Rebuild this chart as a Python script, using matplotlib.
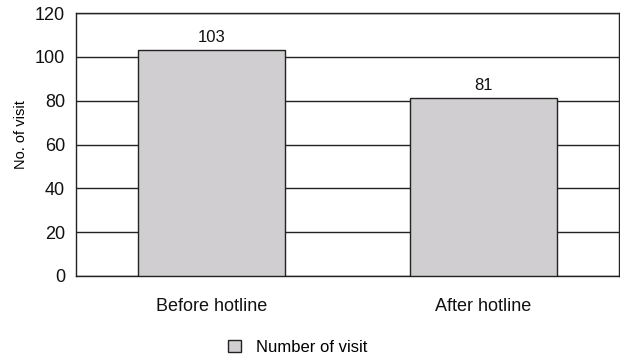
import matplotlib
matplotlib.use("Agg")
import matplotlib.pyplot as plt
from matplotlib.patches import Patch

categories = ["Before hotline", "After hotline"]
visits = [103, 81]
yticks = [0, 20, 40, 60, 80, 100, 120]

plt.rcParams['font.family'] = ['Liberation Sans', 'DejaVu Sans']

fig = plt.figure(figsize=(6.2, 3.58), dpi=100)
ax = fig.add_axes([76/620, 1 - 276/358, 543/620, 263/358])

x = range(len(categories))
bars = ax.bar(x, visits, width=0.54, color="#d0ced0", edgecolor="#222222",
              linewidth=1.0, zorder=3)
for xi, v in zip(x, visits):
    ax.text(xi, v + 2.5, str(v), ha="center", va="bottom", fontsize=12, color="#111111")

ax.set_xlim(-0.5, 1.5)
ax.set_ylim(0, 120)
ax.set_yticks(yticks)
ax.yaxis.grid(True, color="#222222", linewidth=1.0, zorder=0)
ax.set_axisbelow(True)
ax.set_xticks(list(x))
ax.set_xticklabels(categories, fontsize=13)
ax.tick_params(axis="y", length=0, labelsize=13, colors="#111111", pad=8)
ax.tick_params(axis="x", length=0, labelsize=13, colors="#111111", pad=16)
for s in ax.spines.values():
    s.set_color("#222222")
    s.set_linewidth(1.0)
ax.set_ylabel("No. of visit", fontsize=10.5)
ax.yaxis.set_label_coords(-48/543, (276 - 135) / 263)

handle = Patch(facecolor="#d0ced0", edgecolor="#222222", linewidth=1.0)
fig.legend([handle], ["Number of visit"], loc="center", bbox_to_anchor=(0.48, 1 - 347/358),
           frameon=False, fontsize=12, handlelength=0.75, handleheight=0.75, handletextpad=0.9)

fig.savefig("out.png", dpi=100)
